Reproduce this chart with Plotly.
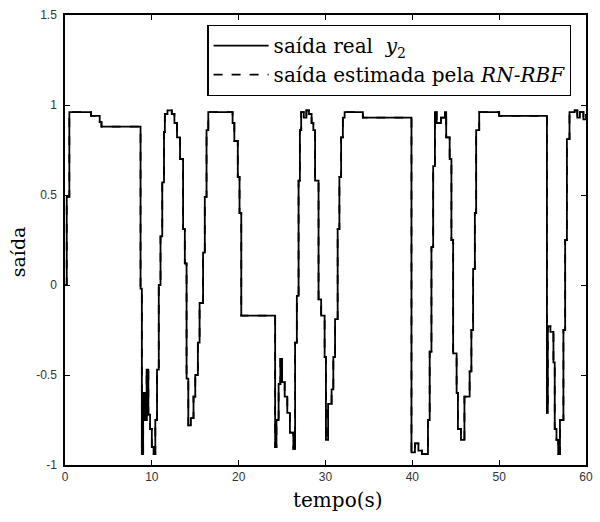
import plotly.graph_objects as go

# time instants (s) and sampled outputs (zero-order hold)
t = [0, 0.2, 0.5, 3.0, 4.0, 4.2, 8.7, 8.85, 9.0, 9.2, 9.4, 9.6, 9.8, 10.0, 10.2,
     10.4, 10.6, 10.8, 11.0, 11.2, 11.4, 11.5, 11.8, 12.3, 12.6, 12.9, 13.25, 13.6,
     13.8, 14.0, 14.2, 14.5, 14.8, 15.0, 15.3, 15.5, 15.9, 16.1, 16.3, 16.5, 19.3,
     19.5, 19.9, 20.1, 20.3, 24.2, 24.35, 24.6, 24.8, 25.0, 25.3, 25.6, 25.9, 26.3,
     26.5, 26.7, 26.9, 27.05, 27.2, 27.5, 27.8, 28.1, 28.4, 28.6, 28.8, 29.2, 29.5,
     29.9, 30.05, 30.3, 30.7, 30.9, 31.1, 31.4, 31.6, 31.8, 32.0, 32.2, 34.3, 39.9,
     40.3, 40.7, 41.1, 41.8, 42.0, 42.2, 42.4, 42.6, 42.8, 43.3, 43.75, 43.9, 44.3,
     44.5, 44.7, 45.1, 45.25, 45.6, 46.0, 46.6, 46.8, 47.0, 47.2, 47.35, 47.7, 50.0,
     55.5, 55.6, 55.9, 56.25, 56.4, 56.6, 56.8, 57.0, 57.4, 57.6, 57.8, 58.1, 58.7,
     59.0, 59.3, 59.7, 60.0]

y_real = [0.0, 0.49, 0.96, 0.94, 0.905, 0.88, -0.02, -0.94, -0.6, -0.75, -0.47, -0.72,
          -0.8, -0.9, -0.94, -0.75, -0.47, 0.0, 0.27, 0.57, 0.85, 0.95, 0.97, 0.95,
          0.9, 0.82, 0.70, 0.31, 0.12, -0.52, -0.78, -0.74, -0.62, -0.5, -0.32, -0.1,
          0.18, 0.49, 0.86, 0.96, 0.9, 0.80, 0.6, 0.4, -0.17, -0.9, -0.75, -0.55,
          -0.41, -0.54, -0.62, -0.71, -0.82, -0.91, -0.32, -0.06, 0.58, 0.86, 0.96,
          0.93, 0.97, 0.95, 0.9, 0.86, 0.58, -0.08, -0.17, -0.4, -0.86, -0.66, -0.58,
          -0.4, -0.19, 0.31, 0.6, 0.82, 0.93, 0.96, 0.93, -0.93, -0.88, -0.92, -0.94,
          -0.75, -0.37, 0.21, 0.66, 0.96, 0.9, 0.93, 0.96, 0.82, 0.7, 0.25, -0.38,
          -0.6, -0.8, -0.86, -0.62, -0.48, -0.25, 0.09, 0.4, 0.86, 0.96, 0.94, -0.71,
          -0.23, -0.26, -0.43, -0.8, -0.86, -0.94, -0.75, -0.25, 0.25, 0.81, 0.96,
          0.97, 0.93, 0.96, 0.92, 0.95]

# RBF network estimate (practically coincides with the real output)
y_est = list(y_real)

x_ticks = [0, 10, 20, 30, 40, 50, 60]
y_ticks = [-1, -0.5, 0, 0.5, 1, 1.5]
y_tick_text = ["-1", "-0.5", "0", "0.5", "1", "1.5"]

fig = go.Figure()
fig.add_trace(go.Scatter(
    x=t, y=y_real, mode="lines", line=dict(color="black", width=1.8, shape="hv"),
    name="saída real  <i>y</i><sub>2</sub>"))
fig.add_trace(go.Scatter(
    x=t, y=y_est, mode="lines",
    line=dict(color="black", width=1.8, dash="dash", shape="hv"),
    name="saída estimada pela <i>RN-RBF</i>"))

axis_common = dict(showgrid=False, zeroline=False, showline=True, linecolor="black",
                   linewidth=1.5, mirror="ticks", ticks="inside", ticklen=5,
                   tickcolor="black", tickfont=dict(family="Liberation Sans", size=12,
                                                    color="#333"))

fig.update_xaxes(range=[0, 60], tickvals=x_ticks, **axis_common)
fig.update_yaxes(range=[-1, 1.5], tickvals=y_ticks, ticktext=y_tick_text,
                 ticklabelstandoff=4, **axis_common)

fig.update_layout(
    width=600, height=522,
    margin=dict(l=65, r=7, t=15, b=57),
    paper_bgcolor="white", plot_bgcolor="white",
    showlegend=True,
    legend=dict(x=0.972, y=0.978, xanchor="right", yanchor="top",
                bgcolor="white", bordercolor="black", borderwidth=1.2,
                font=dict(family="DejaVu Serif", size=20, color="black"),
                tracegroupgap=0, itemwidth=55),
    annotations=[
        dict(text="tempo(s)", x=0.524, y=-0.078, xref="paper", yref="paper",
             xanchor="center", yanchor="middle", showarrow=False,
             font=dict(family="DejaVu Serif", size=20, color="black")),
        dict(text="saída", x=-0.09, y=0.473, xref="paper", yref="paper",
             xanchor="center", yanchor="middle", showarrow=False, textangle=-90,
             font=dict(family="DejaVu Serif", size=19, color="black")),
    ],
)

fig.write_html("out.html")
